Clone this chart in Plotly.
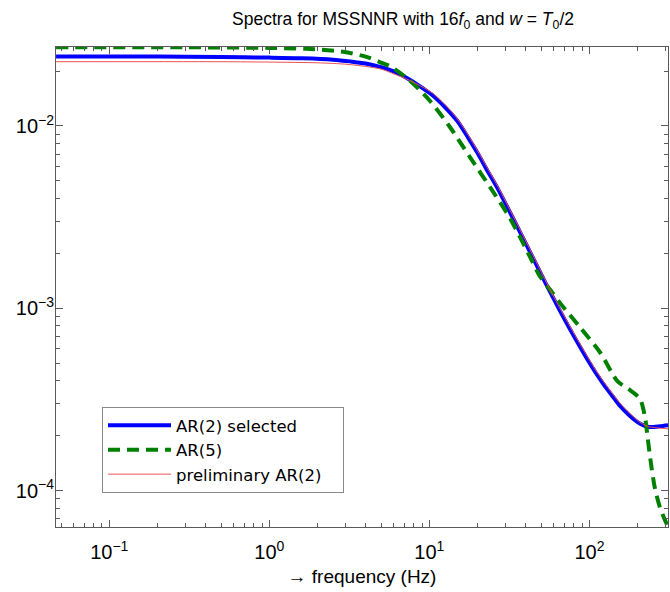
import plotly.graph_objects as go

# ---- data ----
freq_blue = [0.0465, 0.2, 0.5, 1.0, 1.6, 2.5, 3.2, 4.0, 5.0, 6.0, 7.5, 9.0, 10.5, 12.5, 15, 17.5,
             20, 23, 27, 32, 37, 44, 54, 65, 76, 87, 97, 110, 122, 140, 156, 178, 199, 215,
             230, 250, 275, 310]
psd_blue = [0.0240, 0.0240, 0.0239, 0.0237, 0.0235, 0.0231, 0.0226, 0.0220, 0.0210, 0.0199,
            0.0180, 0.0162, 0.0147, 0.0127, 0.0106, 0.0086, 0.0071, 0.0057, 0.00446, 0.00334,
            0.0026, 0.00192, 0.00134, 0.00098, 0.000762, 0.000618, 0.000525, 0.00044,
            0.000385, 0.000328, 0.00029, 0.000258, 0.000238, 0.000229, 0.000224, 0.000223,
            0.000225, 0.000228]

freq_green = [0.0465, 0.3, 1.0, 1.7, 2.8, 3.2, 4.0, 4.9, 5.7, 7.4, 10.1, 13.4, 18, 24, 32,
              42.6, 49, 57, 66, 87, 117, 149, 180, 207, 222, 232, 240, 256, 276, 303, 312]
psd_green = [0.0270, 0.0270, 0.0268, 0.0265, 0.0256, 0.0251, 0.0240, 0.0224, 0.0212, 0.0180,
             0.0137, 0.0099, 0.0067, 0.0046, 0.0031, 0.00191, 0.00150, 0.00126, 0.00106,
             0.00079, 0.00057, 0.00040, 0.000355, 0.000318, 0.000255, 0.000190, 0.000150,
             0.000104, 0.0000807, 0.0000659, 0.000062]

freq_red = [0.0465, 0.5, 1.0, 2.0, 2.8, 3.2, 4.0, 5.0, 6.0, 7.5, 9.0, 10.5, 12.5, 15, 17.5,
            20, 23, 27, 32, 37, 44, 54, 65, 76, 87, 97, 110, 122, 140, 156, 178, 199, 215,
            230, 250, 275, 310]
psd_red = [0.0225, 0.0225, 0.0224, 0.0222, 0.0219, 0.0217, 0.0212, 0.0205, 0.0193, 0.0178,
           0.0164, 0.0151, 0.0131, 0.0109, 0.0089, 0.0073, 0.0059, 0.0046, 0.00344, 0.00268,
           0.00198, 0.00138, 0.00101, 0.00079, 0.00064, 0.000545, 0.000455, 0.000398,
           0.000338, 0.000300, 0.000266, 0.000243, 0.000232, 0.000225, 0.000222, 0.000220,
           0.000218]

x_tickvals = [0.1, 1, 10, 100]
x_ticktext = ["10<sup>\u22121</sup>", "10<sup>0</sup>", "10<sup>1</sup>", "10<sup>2</sup>"]
y_tickvals = [1e-4, 1e-3, 1e-2]
y_ticktext = ["10<sup>\u22124</sup>", "10<sup>\u22123</sup>", "10<sup>\u22122</sup>"]

names = ["AR(2) selected", "AR(5)", "preliminary AR(2)\u00a0\u00a0\u00a0"]

x_minor = [d * 10.0 ** e for e in range(-2, 3) for d in range(2, 10)]
y_minor = [d * 10.0 ** e for e in range(-5, -1) for d in range(2, 10)]

FONT = "Liberation Sans, Arial, Helvetica, sans-serif"
LFONT = "DejaVu Sans, Liberation Sans, sans-serif"
AX = "#5a5a5a"

fig = go.Figure()
fig.add_trace(go.Scatter(x=freq_blue, y=psd_blue, mode="lines", name=names[0],
                         line=dict(color="#0000ff", width=4, shape="spline", smoothing=0.8)))
fig.add_trace(go.Scatter(x=freq_green, y=psd_green, mode="lines", name=names[1],
                         line=dict(color="#008000", width=4, dash="12px,7px",
                                   shape="spline", smoothing=0.8)))
fig.add_trace(go.Scatter(x=freq_red, y=psd_red, mode="lines", name=names[2],
                         line=dict(color="rgb(235,80,80)", width=1, shape="spline", smoothing=0.8)))

axis_common = dict(type="log", showgrid=False, zeroline=False, ticks="inside", ticklen=7,
                   tickcolor=AX, linecolor=AX, linewidth=1, mirror="allticks",
                   tickfont=dict(family=FONT, size=20, color="black"), automargin=False)

fig.update_layout(
    width=670, height=592, autosize=False,
    margin=dict(l=56, r=2, t=47, b=65),
    paper_bgcolor="white", plot_bgcolor="white",
    font=dict(family=FONT, color="black"),
    title=dict(text="Spectra for MSSNNR with 16<i>f</i><sub>0</sub> and <i>w</i> = <i>T</i><sub>0</sub>/2",
               x=403 / 670, xanchor="center", xref="container",
               y=1 - 19 / 592, yanchor="middle", yref="container",
               font=dict(family=FONT, size=17.5, color="black")),
    xaxis=dict(range=[-1.333, 2.491], tickmode="array", tickvals=x_tickvals, ticktext=x_ticktext,
               ticklabelstandoff=7,
               minor=dict(tickmode="array", tickvals=x_minor, ticks="inside", ticklen=4,
                          tickcolor=AX, showgrid=False),
               title=dict(text="\u2192 frequency (Hz)", font=dict(family=FONT, size=19), standoff=7),
               **axis_common),
    yaxis=dict(range=[-4.2, -1.567], tickmode="array", tickvals=y_tickvals, ticktext=y_ticktext,
               ticklabelstandoff=-3,
               minor=dict(tickmode="array", tickvals=y_minor, ticks="inside", ticklen=4,
                          tickcolor=AX, showgrid=False),
               **axis_common),
    legend=dict(x=(102 - 56) / 612, y=(527 - 407) / 480, xanchor="left", yanchor="top",
                bordercolor="#888888", borderwidth=1, bgcolor="white",
                font=dict(family=LFONT, size=16.5, color="black"), itemwidth=63,
                tracegroupgap=0),
    showlegend=True,
)

fig.write_html("out.html", config={"displayModeBar": False},
               post_script="document.body.style.margin='0';document.body.style.padding='0';")
